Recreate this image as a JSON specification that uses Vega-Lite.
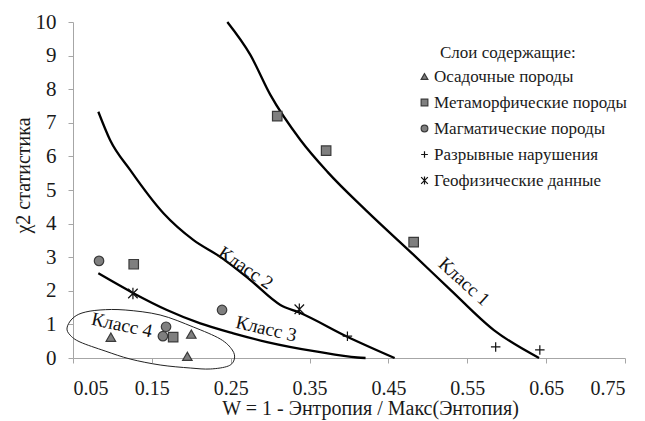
{
  "$schema": "https://vega.github.io/schema/vega-lite/v6.json",
  "width": 552,
  "height": 336,
  "autosize": "none",
  "padding": {"left": 73, "top": 22, "right": 20, "bottom": 63},
  "background": "white",
  "config": {
    "view": {"stroke": null},
    "font": "Liberation Serif",
    "axis": {"grid": false, "domainColor": "#a6a6a6", "tickColor": "#a6a6a6", "tickSize": 5, "labelFont": "Liberation Serif", "titleFont": "Liberation Serif", "labelColor": "#1a1a1a", "titleColor": "#1a1a1a", "labelFontSize": 20, "titleFontSize": 20, "titleFontWeight": "normal"},
    "legend": {"labelFont": "Liberation Serif", "titleFont": "Liberation Serif", "labelFontSize": 17, "titleFontSize": 17, "titleFontWeight": "normal", "labelColor": "#1a1a1a", "titleColor": "#1a1a1a", "labelLimit": 300}
  },
  "datasets": {
    "curves": [
      {"cls": "1", "W": 0.2457, "chi": 10.0},
      {"cls": "1", "W": 0.2749, "chi": 9.02},
      {"cls": "1", "W": 0.3003, "chi": 7.83},
      {"cls": "1", "W": 0.3384, "chi": 6.49},
      {"cls": "1", "W": 0.3727, "chi": 5.54},
      {"cls": "1", "W": 0.4236, "chi": 4.35},
      {"cls": "1", "W": 0.482, "chi": 3.07},
      {"cls": "1", "W": 0.529, "chi": 2.02},
      {"cls": "1", "W": 0.5837, "chi": 0.83},
      {"cls": "1", "W": 0.641, "chi": 0.0},
      {"cls": "2", "W": 0.0821, "chi": 7.33},
      {"cls": "2", "W": 0.097, "chi": 6.49},
      {"cls": "2", "W": 0.1224, "chi": 5.6},
      {"cls": "2", "W": 0.1647, "chi": 4.31},
      {"cls": "2", "W": 0.2029, "chi": 3.51},
      {"cls": "2", "W": 0.2368, "chi": 3.01},
      {"cls": "2", "W": 0.2749, "chi": 2.32},
      {"cls": "2", "W": 0.313, "chi": 1.58},
      {"cls": "2", "W": 0.3384, "chi": 1.34},
      {"cls": "2", "W": 0.3978, "chi": 0.634},
      {"cls": "2", "W": 0.4579, "chi": 0.0},
      {"cls": "3", "W": 0.0821, "chi": 2.52},
      {"cls": "3", "W": 0.1266, "chi": 1.93},
      {"cls": "3", "W": 0.1691, "chi": 1.43},
      {"cls": "3", "W": 0.2114, "chi": 1.03},
      {"cls": "3", "W": 0.2533, "chi": 0.735},
      {"cls": "3", "W": 0.2961, "chi": 0.476},
      {"cls": "3", "W": 0.3597, "chi": 0.188},
      {"cls": "3", "W": 0.4105, "chi": 0.015},
      {"cls": "3", "W": 0.421, "chi": 0.0}
    ],
    "ellipse": [
      {"ord": 1, "W": 0.0424, "chi": 0.893},
      {"ord": 2, "W": 0.0487, "chi": 1.161},
      {"ord": 3, "W": 0.0614, "chi": 1.339},
      {"ord": 4, "W": 0.0843, "chi": 1.429},
      {"ord": 5, "W": 0.1161, "chi": 1.429},
      {"ord": 6, "W": 0.1605, "chi": 1.28},
      {"ord": 7, "W": 0.2025, "chi": 0.923},
      {"ord": 8, "W": 0.2368, "chi": 0.565},
      {"ord": 9, "W": 0.252, "chi": 0.238},
      {"ord": 10, "W": 0.2546, "chi": -0.03},
      {"ord": 11, "W": 0.247, "chi": -0.238},
      {"ord": 12, "W": 0.2241, "chi": -0.327},
      {"ord": 13, "W": 0.1987, "chi": -0.298},
      {"ord": 14, "W": 0.1605, "chi": -0.208},
      {"ord": 15, "W": 0.1224, "chi": -0.03},
      {"ord": 16, "W": 0.0907, "chi": 0.208},
      {"ord": 17, "W": 0.0589, "chi": 0.476},
      {"ord": 18, "W": 0.0462, "chi": 0.685}
    ],
    "points": [
      {"layer": "Осадочные породы", "W": 0.098, "chi": 0.62},
      {"layer": "Осадочные породы", "W": 0.2, "chi": 0.71},
      {"layer": "Осадочные породы", "W": 0.195, "chi": 0.05},
      {"layer": "Метаморфические породы", "W": 0.309, "chi": 7.2},
      {"layer": "Метаморфические породы", "W": 0.371, "chi": 6.17},
      {"layer": "Метаморфические породы", "W": 0.482, "chi": 3.45},
      {"layer": "Метаморфические породы", "W": 0.127, "chi": 2.79},
      {"layer": "Метаморфические породы", "W": 0.177, "chi": 0.62},
      {"layer": "Магматические породы", "W": 0.083, "chi": 2.89},
      {"layer": "Магматические породы", "W": 0.239, "chi": 1.43},
      {"layer": "Магматические породы", "W": 0.168, "chi": 0.93},
      {"layer": "Магматические породы", "W": 0.164, "chi": 0.65},
      {"layer": "Разрывные нарушения", "W": 0.398, "chi": 0.65},
      {"layer": "Разрывные нарушения", "W": 0.586, "chi": 0.33},
      {"layer": "Разрывные нарушения", "W": 0.642, "chi": 0.24},
      {"layer": "Геофизические данные", "W": 0.126, "chi": 1.92},
      {"layer": "Геофизические данные", "W": 0.337, "chi": 1.45}
    ],
    "labels": [
      {"label": "Класс 1", "W": 0.546, "chi": 2.27},
      {"label": "Класс 2", "W": 0.269, "chi": 2.68},
      {"label": "Класс 3", "W": 0.295, "chi": 0.87},
      {"label": "Класс 4", "W": 0.112, "chi": 0.98}
    ]
  },
  "encoding": {
    "x": {"field": "W", "type": "quantitative", "scale": {"domain": [0.05, 0.75], "nice": false, "zero": false},
      "axis": {"values": [0.05, 0.15, 0.25, 0.35, 0.45, 0.55, 0.65, 0.75], "format": ".2f", "title": "W = 1 - Энтропия / Макс(Энтопия)", "labelPadding": 15, "titlePadding": 0, "titleX": 297}},
    "y": {"field": "chi", "type": "quantitative", "scale": {"domain": [0, 10], "nice": false},
      "axis": {"values": [0,1,2,3,4,5,6,7,8,9,10], "title": "χ2 статистика", "labelPadding": 12, "titlePadding": 2, "titleY": 153, "labelFontSize": 21}}
  },
  "layer": [
    {
      "data": {"name": "curves"},
      "mark": {"type": "line", "color": "black", "strokeWidth": 2.3, "interpolate": "monotone"},
      "encoding": {"detail": {"field": "cls"}, "order": {"field": "W", "type": "quantitative"}}
    },
    {
      "data": {"name": "ellipse"},
      "mark": {"type": "line", "color": "#222222", "strokeWidth": 1, "interpolate": "cardinal-closed"},
      "encoding": {"order": {"field": "ord", "type": "quantitative"}}
    },
    {
      "data": {"name": "points"},
      "mark": {"type": "point", "filled": false, "size": 90, "strokeWidth": 1.2, "opacity": 1},
      "encoding": {
        "shape": {"field": "layer", "type": "nominal", "title": "\u2800\u2800Слои содержащие:",
          "scale": {"domain": ["Осадочные породы", "Метаморфические породы", "Магматические породы", "Разрывные нарушения", "Геофизические данные"],
            "range": ["triangle-up", "square", "circle", "M-1,0L1,0M0,-1L0,1", "M-1,-1L1,1M-1,1L1,-1M0,-1.2L0,1.2"]},
          "legend": {"orient": "none", "legendX": 343, "legendY": 23, "symbolSize": 45, "rowPadding": 8, "titlePadding": 6, "padding": 0, "symbolStrokeWidth": 1.2, "labelOffset": 1}},
        "fill": {"field": "layer", "type": "nominal",
          "scale": {"domain": ["Осадочные породы", "Метаморфические породы", "Магматические породы", "Разрывные нарушения", "Геофизические данные"],
            "range": ["#7f7f7f", "#7f7f7f", "#7f7f7f", "transparent", "transparent"]}},
        "stroke": {"field": "layer", "type": "nominal",
          "scale": {"domain": ["Осадочные породы", "Метаморфические породы", "Магматические породы", "Разрывные нарушения", "Геофизические данные"],
            "range": ["#3a3a3a", "#3a3a3a", "#3a3a3a", "#111111", "#111111"]}}
      }
    },
    {
      "data": {"name": "labels"},
      "transform": [{"filter": "datum.label === 'Класс 1'"}],
      "mark": {"type": "text", "angle": 42, "fontSize": 19, "color": "#111111", "font": "Liberation Serif"},
      "encoding": {"text": {"field": "label"}}
    },
    {
      "data": {"name": "labels"},
      "transform": [{"filter": "datum.label === 'Класс 2'"}],
      "mark": {"type": "text", "angle": 34, "fontSize": 19, "color": "#111111", "font": "Liberation Serif"},
      "encoding": {"text": {"field": "label"}}
    },
    {
      "data": {"name": "labels"},
      "transform": [{"filter": "datum.label === 'Класс 3'"}],
      "mark": {"type": "text", "angle": 13, "fontSize": 19, "color": "#111111", "font": "Liberation Serif"},
      "encoding": {"text": {"field": "label"}}
    },
    {
      "data": {"name": "labels"},
      "transform": [{"filter": "datum.label === 'Класс 4'"}],
      "mark": {"type": "text", "angle": 12, "fontSize": 19, "color": "#111111", "font": "Liberation Serif"},
      "encoding": {"text": {"field": "label"}}
    }
  ]
}
